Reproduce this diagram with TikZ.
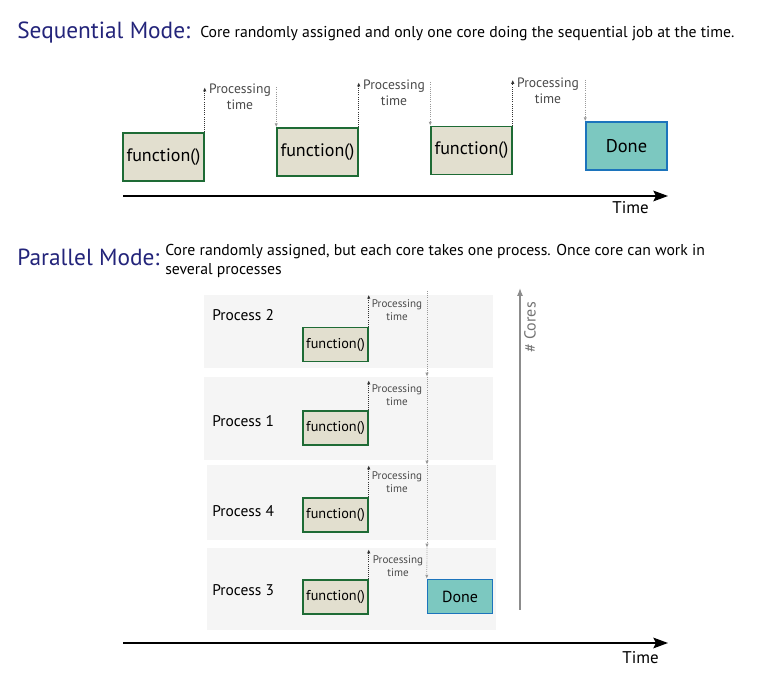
\documentclass[tikz,border=0pt]{standalone}
\usepackage{fontspec}
\setmainfont{PT Sans}
\usetikzlibrary{arrows.meta,positioning}
\definecolor{titleblue}{HTML}{23247A}
\definecolor{funcfill}{HTML}{E2DFCF}
\definecolor{funcdraw}{HTML}{1E6B35}
\definecolor{donefill}{HTML}{7CC8C0}
\definecolor{donedraw}{HTML}{1C74BC}
\definecolor{bandgray}{HTML}{F5F5F5}
\definecolor{ptext}{HTML}{4A4A4A}

\begin{document}
\begin{tikzpicture}[x=0.75pt,y=-0.75pt,
    func/.style={draw=funcdraw,fill=funcfill,line width=1.1pt,inner sep=0pt,
      minimum width=60.75pt,minimum height=36pt,font=\fontsize{13.5}{15}\selectfont},
    pfunc/.style={func,minimum width=48.75pt,minimum height=25.5pt,font=\fontsize{10.7}{12}\selectfont},
    done/.style={func,draw=donedraw,fill=donefill},
    pdone/.style={pfunc,draw=donedraw,fill=donefill},
    band/.style={fill=bandgray,inner sep=0pt,minimum width=216.75pt},
    uparr/.style={densely dotted,line width=0.6pt,black!80,-{Latex[length=3pt,width=2.5pt]}},
    dnarr/.style={densely dotted,line width=0.6pt,black!40,-{Latex[length=3pt,width=2.5pt]}},
    ptime/.style={align=center,text=ptext,font=\fontsize{10.2}{12}\selectfont,inner sep=0pt},
    pptime/.style={ptime,font=\fontsize{8.3}{10}\selectfont},
    timeax/.style={line width=1.4pt,-{Stealth[length=11pt,width=8pt,inset=2pt]}},
    title/.style={anchor=west,inner sep=0pt,text=titleblue,font=\fontsize{17.5}{20}\selectfont},
    sub/.style={anchor=west,inner sep=0pt,font=\fontsize{11.8}{14.2}\selectfont,align=left},
    plabel/.style={anchor=west,inner sep=0pt,font=\fontsize{11.6}{13}\selectfont}]
  \useasboundingbox[fill=white] (0,0) rectangle (758,680);

  % sequential mode
  \node[title] (seqt) at (17,33) {Sequential Mode:};
  \node[sub] (seqs) at (200,34) {Core randomly assigned and only one core doing the sequential job at the time.};

  \node[func] (f1) at (163.5,157) {function()};
  \node[func] (f2) at (317.5,152) {function()};
  \node[func] (f3) at (471.5,150.5) {function()};
  \node[done,font=\fontsize{13.8}{15}\selectfont] (d1) at (626.5,146) {Done};

  \draw[uparr] (f1.north east) -- ++(0,-45) coordinate (u1);
  \node[ptime] (t1) at (240,97) {Processing\\time};
  \draw[dnarr] (f2.north west |- u1) -- (f2.north west);
  \draw[uparr] (f2.north east) -- ++(0,-45) coordinate (u2);
  \node[ptime] (t2) at (394,93) {Processing\\time};
  \draw[dnarr] (f3.north west |- u2) -- (f3.north west);
  \draw[uparr] (f3.north east) -- ++(0,-46) coordinate (u3);
  \node[ptime] (t3) at (548,91) {Processing\\time};
  \draw[dnarr] (d1.north west |- u3) -- (d1.north west);

  \coordinate (s0) at (123,196);
  \coordinate (s1) at (668,196);
  \draw[timeax] (s0) -- (s1);
  \node[anchor=north east,inner sep=0pt,font=\fontsize{12.7}{14}\selectfont] (st) at (649,201) {Time};

  % parallel mode
  \node[title] (part) at (17,257) {Parallel Mode:};
  \node[sub,anchor=north west] (pars) at (165,244) {Core randomly assigned, but each core takes one process. Once core can work in\\several processes};

  \node[band,minimum height=54.75pt] (b2) at (348.5,331.5) {};
  \node[band,minimum height=62.25pt] (b1) at (348.5,418.5) {};
  \node[band,minimum height=56.25pt] (b4) at (351.5,502.5) {};
  \node[band,minimum height=61.5pt] (b3) at (351.5,589) {};

  \node[plabel] (l2) at (212,315) {Process 2};
  \node[plabel] (l1) at (212,421) {Process 1};
  \node[plabel] (l4) at (212,511) {Process 4};
  \node[plabel] (l3) at (212,590) {Process 3};

  \node[pfunc] (g2) at (335.5,344.5) {function()};
  \node[pfunc] (g1) at (335.5,428) {function()};
  \node[pfunc] (g4) at (335.5,515) {function()};
  \node[pfunc] (g3) at (335.5,597) {function()};
  \node[pdone,font=\fontsize{12}{13}\selectfont] (d2) at (460,596.5) {Done};

  \draw[uparr] (g2.north east) -- (g2.north east |- b2.north);
  \draw[uparr] (g1.north east) -- ++(0,-30);
  \draw[uparr] (g4.north east) -- ++(0,-32);
  \draw[uparr] (g3.north east) -- ++(0,-30);
  \node[pptime] (q2) at (397,310) {Processing\\time};
  \node[pptime] (q1) at (397,395) {Processing\\time};
  \node[pptime] (q4) at (397,482) {Processing\\time};
  \node[pptime] (q3) at (398,566) {Processing\\time};

  \coordinate (r0) at (427,291);
  \draw[dnarr] (r0) -- (r0 |- b1.north);
  \draw[dnarr] (r0 |- b1.north) -- (r0 |- b4.north);
  \draw[dnarr] (r0 |- b4.north) -- (r0 |- b3.north);
  \draw[dnarr] (r0 |- b3.north) -- (d2.north west);

  \coordinate (c0) at (520,610);
  \coordinate (c1) at (520,288);
  \draw[black!45,line width=0.9pt,-{Latex[length=6pt,width=4.5pt]}] (c0) -- (c1);
  \node[rotate=90,anchor=north east,inner sep=0pt,text=black!55,font=\fontsize{12}{13}\selectfont] (cores) at (524,302) {\# Cores};

  \coordinate (p0) at (123,643);
  \coordinate (p1) at (668,643);
  \draw[timeax] (p0) -- (p1);
  \node[anchor=north east,inner sep=0pt,font=\fontsize{12.7}{14}\selectfont] (pt) at (659,651) {Time};
\end{tikzpicture}
\end{document}
